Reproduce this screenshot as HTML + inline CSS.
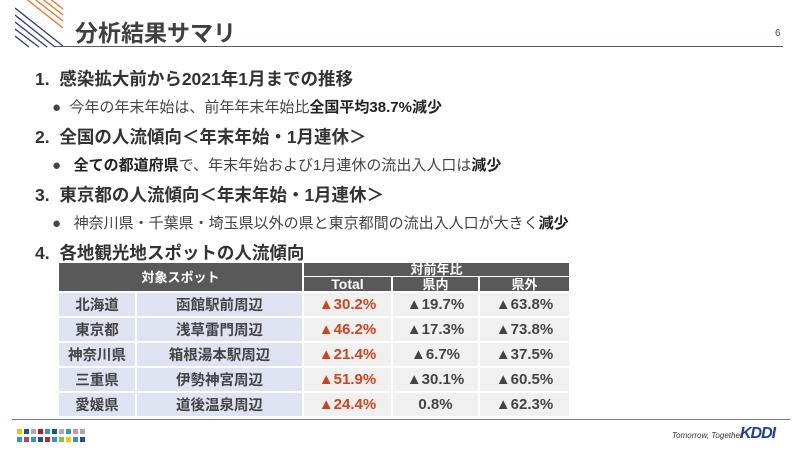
<!DOCTYPE html>
<html><head><meta charset="utf-8"><style>
body{margin:0;width:800px;height:450px;background:#fff;position:relative;overflow:hidden;font-family:"Liberation Sans","Noto Sans CJK JP",sans-serif;color:#333}
.a{position:absolute;white-space:nowrap}
.h{font-weight:bold;font-size:17.5px;color:#333}
.b{font-size:15px;color:#444}
.b b{color:#222}
table{position:absolute;left:57px;top:263px;border-collapse:separate;border-spacing:2px 0;font-size:14.5px;font-weight:bold;color:#444}
td{text-align:center;padding:0;border-bottom:2px solid #fff}
.hd{background:#595959;color:#fff;height:13px;font-size:13px;line-height:13px}
.c1{background:#dfe2f0;height:23px;}
.c3{background:#f0f0f0;font-size:15px}
.r{color:#d0431b}
</style></head><body>
<svg class="a" style="left:15px;top:0" width="50" height="48">
<g stroke="#e8762c" stroke-width="1.3"><line x1="0" y1="-10" x2="48" y2="28"/><line x1="8" y1="-10" x2="48" y2="21"/><line x1="16" y1="-10" x2="48" y2="15"/><line x1="24" y1="-10" x2="48" y2="9"/></g>
<g stroke="#2d3a80" stroke-width="1.3"><line x1="0" y1="8" x2="48" y2="46"/><line x1="0" y1="15" x2="40" y2="47"/><line x1="0" y1="22" x2="32" y2="47"/><line x1="0" y1="29" x2="24" y2="47"/><line x1="0" y1="36" x2="14" y2="47"/></g>
</svg>
<div class="a" style="left:75px;top:14px;font-size:23px;font-weight:bold;color:#404040">分析結果サマリ</div>
<div class="a" style="left:775px;top:28px;font-size:10px;color:#555">6</div>
<div class="a" style="left:55px;top:46px;width:728px;height:1px;background:#4a5a9a"></div>
<div class="a h" style="left:35px;top:66px">1.&nbsp; 感染拡大前から2021年1月までの推移</div>
<div class="a b" style="left:52px;top:96px">●&nbsp; 今年の年末年始は、前年年末年始比<b>全国平均38.7%減少</b></div>
<div class="a h" style="left:35px;top:124px">2.&nbsp; 全国の人流傾向＜年末年始・1月連休＞</div>
<div class="a b" style="left:52px;top:154px">●&nbsp;&nbsp; <b>全ての都道府県</b>で、年末年始および1月連休の流出入人口は<b>減少</b></div>
<div class="a h" style="left:35px;top:182px">3.&nbsp; 東京都の人流傾向＜年末年始・1月連休＞</div>
<div class="a b" style="left:52px;top:212px">●&nbsp;&nbsp; 神奈川県・千葉県・埼玉県以外の県と東京都間の流出入人口が大きく<b>減少</b></div>
<div class="a h" style="left:35px;top:240px">4.&nbsp; 各地観光地スポットの人流傾向</div>
<table>
<tr><td class="hd" colspan="2" rowspan="2" style="height:28px">対象スポット</td><td class="hd" colspan="3" style="border-bottom:1px solid #fff">対前年比</td></tr>
<tr><td class="hd" style="width:87px;font-size:14px">Total</td><td class="hd" style="width:85px">県内</td><td class="hd" style="width:89px">県外</td></tr>
<tr><td class="c1" style="width:76px">北海道</td><td class="c1" style="width:165px">函館駅前周辺</td><td class="c3 r">▲30.2%</td><td class="c3">▲19.7%</td><td class="c3">▲63.8%</td></tr>
<tr><td class="c1">東京都</td><td class="c1">浅草雷門周辺</td><td class="c3 r">▲46.2%</td><td class="c3">▲17.3%</td><td class="c3">▲73.8%</td></tr>
<tr><td class="c1">神奈川県</td><td class="c1">箱根湯本駅周辺</td><td class="c3 r">▲21.4%</td><td class="c3">▲6.7%</td><td class="c3">▲37.5%</td></tr>
<tr><td class="c1">三重県</td><td class="c1">伊勢神宮周辺</td><td class="c3 r">▲51.9%</td><td class="c3">▲30.1%</td><td class="c3">▲60.5%</td></tr>
<tr><td class="c1">愛媛県</td><td class="c1">道後温泉周辺</td><td class="c3 r">▲24.4%</td><td class="c3">0.8%</td><td class="c3">▲62.3%</td></tr>
</table>
<div class="a" style="left:12px;top:419px;width:778px;height:1px;background:#6a7bb0"></div>
<svg class="a" style="left:17px;top:429px" width="75" height="14">
<g>
<rect x="0" y="0" width="5" height="5" fill="#f4c400"/><rect x="7" y="0" width="5" height="5" fill="#2a4a9a"/><rect x="14" y="0" width="5" height="5" fill="#aaa"/><rect x="21" y="0" width="5" height="5" fill="#b0182a"/><rect x="28" y="0" width="5" height="5" fill="#2a9ac0"/><rect x="35" y="0" width="5" height="5" fill="#2a4a9a"/><rect x="42" y="0" width="5" height="5" fill="#aaa"/><rect x="49" y="0" width="5" height="5" fill="#2a9ac0"/><rect x="56" y="0" width="5" height="5" fill="#e08aa0"/><rect x="63" y="0" width="5" height="5" fill="#aaa"/>
<rect x="0" y="8" width="5" height="5" fill="#2a9ac0"/><rect x="7" y="8" width="5" height="5" fill="#b04080"/><rect x="14" y="8" width="5" height="5" fill="#2a9ac0"/><rect x="21" y="8" width="5" height="5" fill="#2a4a9a"/><rect x="28" y="8" width="5" height="5" fill="#d02020"/><rect x="35" y="8" width="5" height="5" fill="#2a9ac0"/><rect x="42" y="8" width="5" height="5" fill="#8ac040"/><rect x="49" y="8" width="5" height="5" fill="#f4c400"/><rect x="56" y="8" width="5" height="5" fill="#2a9ac0"/><rect x="63" y="8" width="5" height="5" fill="#2a4a9a"/>
</g></svg>
<div class="a" style="left:672px;top:431px;font-size:8px;font-style:italic;color:#333">Tomorrow, Together</div>
<div class="a" style="left:740px;top:425px;font-size:16px;font-weight:bold;font-style:italic;color:#1f3f9a;letter-spacing:-1px">KDDI</div>
</body></html>
